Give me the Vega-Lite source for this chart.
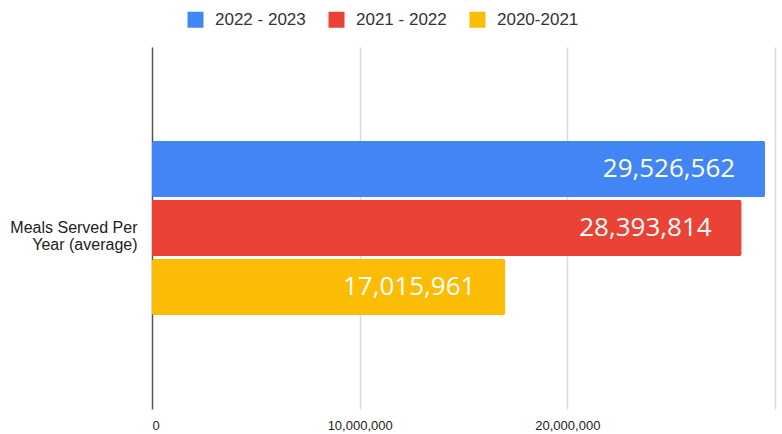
{
  "$schema": "https://vega.github.io/schema/vega-lite/v6.json",
  "width": 623,
  "height": 362,
  "autosize": {"type": "none"},
  "padding": {"left": 152, "top": 47, "right": 7, "bottom": 25},
  "background": "white",
  "config": {"view": {"stroke": null}},
  "data": {"values": [
    {"metric": "Meals Served Per Year (average)", "period": "2022 - 2023", "meals": 29526562},
    {"metric": "Meals Served Per Year (average)", "period": "2021 - 2022", "meals": 28393814},
    {"metric": "Meals Served Per Year (average)", "period": "2020-2021", "meals": 17015961}
  ]},
  "encoding": {
    "y": {
      "field": "metric", "type": "nominal",
      "scale": {"paddingInner": 0, "paddingOuter": 0.54},
      "axis": {"title": null, "domain": false, "ticks": false, "labelPadding": 15, "labelFontSize": 16, "labelFont": "Liberation Sans", "labelColor": "#222", "labelExpr": "['Meals Served Per', 'Year (average)']", "labelLineHeight": 17}
    },
    "yOffset": {
      "field": "period", "type": "nominal",
      "sort": ["2022 - 2023", "2021 - 2022", "2020-2021"],
      "scale": {"paddingInner": 0.05, "paddingOuter": 0}
    },
    "x": {
      "field": "meals", "type": "quantitative",
      "scale": {"domain": [0, 30000000], "nice": false},
      "axis": {
        "title": null, "domain": false, "ticks": false, "grid": true,
        "values": [0, 10000000, 20000000, 30000000],
        "labelExpr": "datum.value >= 30000000 ? '' : format(datum.value, ',')",
        "labelFontSize": 13, "labelFont": "Liberation Sans", "labelColor": "#222", "labelPadding": 10,
        "gridColor": {"condition": {"test": "datum.value === 0", "value": "#555"}, "value": "#dadada"},
        "gridWidth": 1.5
      }
    }
  },
  "layer": [
    {
      "mark": {"type": "bar", "cornerRadius": 2},
      "encoding": {
        "color": {
          "field": "period", "type": "nominal",
          "sort": ["2022 - 2023", "2021 - 2022", "2020-2021"],
          "scale": {"domain": ["2022 - 2023", "2021 - 2022", "2020-2021"], "range": ["#4285F4", "#EA4335", "#FBBC04"]},
          "legend": {
            "title": null, "orient": "none", "direction": "horizontal", "legendX": 35, "legendY": -36,
            "symbolType": "square", "symbolSize": 256, "symbolStrokeWidth": 0,
            "labelFontSize": 17, "labelFont": "Liberation Sans", "labelColor": "#333",
            "labelOffset": 11, "columnPadding": 22
          }
        }
      }
    },
    {
      "mark": {"type": "text", "align": "right", "baseline": "middle", "dx": -30, "font": "Open Sans", "fontSize": 26, "color": "white"},
      "encoding": {"text": {"field": "meals", "type": "quantitative", "format": ","}}
    }
  ]
}
